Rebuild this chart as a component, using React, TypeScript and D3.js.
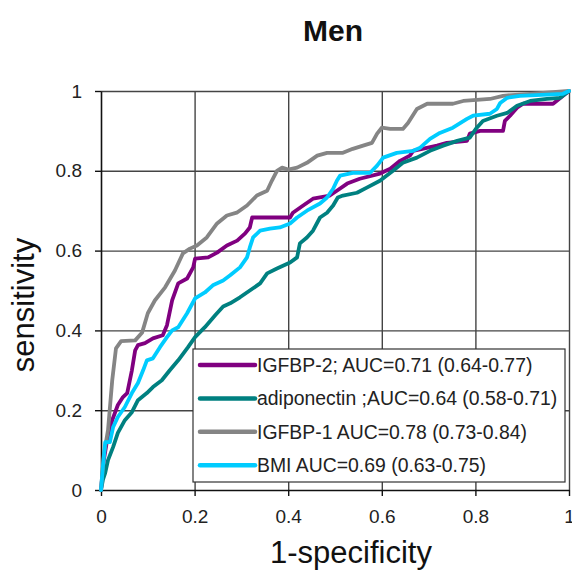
import React, { useEffect, useRef } from "react";
import * as d3 from "d3";

// ROC points: [1-specificity, sensitivity]
const igfbp2 = [
  [0, 0], [0.006, 0.075], [0.013, 0.125], [0.024, 0.175], [0.036, 0.213], [0.047, 0.233],
  [0.056, 0.243], [0.066, 0.3], [0.073, 0.35], [0.079, 0.363], [0.094, 0.368], [0.111, 0.38],
  [0.132, 0.388], [0.141, 0.413], [0.152, 0.475], [0.165, 0.518], [0.184, 0.53], [0.197, 0.558],
  [0.201, 0.58], [0.229, 0.583], [0.248, 0.595], [0.269, 0.613], [0.291, 0.625], [0.308, 0.643],
  [0.318, 0.658], [0.323, 0.683], [0.404, 0.683], [0.41, 0.695], [0.432, 0.713], [0.453, 0.73],
  [0.489, 0.738], [0.504, 0.75], [0.526, 0.768], [0.553, 0.78], [0.596, 0.793], [0.618, 0.805],
  [0.639, 0.825], [0.66, 0.838], [0.667, 0.85], [0.718, 0.863], [0.739, 0.87], [0.782, 0.875],
  [0.788, 0.893], [0.81, 0.9], [0.859, 0.9], [0.863, 0.925], [0.874, 0.938], [0.889, 0.958],
  [0.902, 0.968], [0.966, 0.968], [1, 1],
];

const adiponectin = [
  [0, 0], [0.004, 0.025], [0.009, 0.043], [0.015, 0.075], [0.026, 0.108], [0.036, 0.143],
  [0.051, 0.175], [0.066, 0.195], [0.079, 0.225], [0.098, 0.243], [0.111, 0.258], [0.13, 0.275],
  [0.147, 0.3], [0.165, 0.325], [0.186, 0.358], [0.201, 0.383], [0.222, 0.408], [0.244, 0.438],
  [0.261, 0.46], [0.276, 0.468], [0.297, 0.483], [0.318, 0.5], [0.34, 0.518], [0.355, 0.543],
  [0.376, 0.555], [0.404, 0.57], [0.419, 0.583], [0.425, 0.618], [0.44, 0.633], [0.453, 0.65],
  [0.468, 0.683], [0.483, 0.695], [0.496, 0.713], [0.506, 0.733], [0.517, 0.738], [0.547, 0.745],
  [0.568, 0.758], [0.596, 0.775], [0.624, 0.8], [0.645, 0.82], [0.675, 0.833], [0.703, 0.85],
  [0.731, 0.863], [0.761, 0.875], [0.788, 0.883], [0.803, 0.908], [0.816, 0.925], [0.846, 0.938],
  [0.868, 0.945], [0.889, 0.963], [0.917, 0.975], [0.953, 0.98], [0.981, 0.983], [1, 1],
];

const igfbp1 = [
  [0, 0], [0.006, 0.088], [0.015, 0.15], [0.024, 0.275], [0.032, 0.355], [0.043, 0.373],
  [0.073, 0.375], [0.088, 0.395], [0.1, 0.443], [0.115, 0.475], [0.137, 0.508], [0.158, 0.55],
  [0.175, 0.593], [0.19, 0.605], [0.205, 0.613], [0.226, 0.633], [0.248, 0.668], [0.269, 0.688],
  [0.29, 0.695], [0.312, 0.713], [0.333, 0.738], [0.355, 0.75], [0.365, 0.775], [0.376, 0.8],
  [0.387, 0.808], [0.4, 0.803], [0.419, 0.808], [0.44, 0.82], [0.462, 0.838], [0.483, 0.845],
  [0.517, 0.845], [0.538, 0.855], [0.56, 0.863], [0.579, 0.87], [0.59, 0.893], [0.6, 0.908],
  [0.618, 0.905], [0.645, 0.905], [0.656, 0.92], [0.675, 0.955], [0.697, 0.968], [0.752, 0.968],
  [0.774, 0.975], [0.831, 0.98], [0.859, 0.988], [0.917, 0.993], [1, 1],
];

const bmi = [
  [0, 0], [0.004, 0.058], [0.009, 0.12], [0.019, 0.12], [0.026, 0.158], [0.036, 0.183],
  [0.051, 0.208], [0.066, 0.243], [0.079, 0.268], [0.09, 0.3], [0.098, 0.325], [0.111, 0.33],
  [0.126, 0.358], [0.141, 0.383], [0.152, 0.4], [0.165, 0.408], [0.184, 0.443], [0.201, 0.48],
  [0.222, 0.495], [0.239, 0.513], [0.261, 0.525], [0.276, 0.538], [0.297, 0.558], [0.312, 0.583],
  [0.318, 0.608], [0.325, 0.633], [0.34, 0.65], [0.361, 0.655], [0.382, 0.658], [0.404, 0.668],
  [0.419, 0.683], [0.44, 0.7], [0.468, 0.718], [0.483, 0.733], [0.496, 0.755], [0.504, 0.775],
  [0.511, 0.788], [0.538, 0.795], [0.575, 0.795], [0.59, 0.813], [0.603, 0.833], [0.632, 0.845],
  [0.667, 0.85], [0.682, 0.858], [0.703, 0.88], [0.724, 0.895], [0.752, 0.908], [0.782, 0.93],
  [0.795, 0.938], [0.831, 0.943], [0.846, 0.955], [0.853, 0.97], [0.868, 0.983], [0.895, 0.988],
  [0.987, 0.993], [1, 1],
];

const seriesData = [igfbp2, adiponectin, igfbp1, bmi];
const seriesLabels = [
  "IGFBP-2; AUC=0.71 (0.64-0.77)",
  "adiponectin ;AUC=0.64 (0.58-0.71)",
  "IGFBP-1 AUC=0.78 (0.73-0.84)",
  "BMI AUC=0.69 (0.63-0.75)",
];
const seriesColors = ["#800080", "#008080", "#858585", "#00ccff"];
const tickValues = [0, 0.2, 0.4, 0.6, 0.8, 1];

const FONT = "'Liberation Sans', Arial, sans-serif";

const App = () => {
  const svgRef = useRef(null);

  useEffect(() => {
    const svg = d3.select(svgRef.current);
    svg.selectAll("*").remove();

    const x = d3.scaleLinear().domain([0, 1]).range([101, 569]);
    const y = d3.scaleLinear().domain([0, 1]).range([490, 91]);

    // grid
    const gridX = svg.append("g")
      .attr("transform", `translate(0,${y(0)})`)
      .call(d3.axisBottom(x).tickValues(tickValues.slice(1)).tickSize(-(y(0) - y(1))).tickFormat(() => ""));
    gridX.select(".domain").remove();
    gridX.selectAll("line").attr("stroke", "#444").attr("stroke-width", 1.4);

    const gridY = svg.append("g")
      .attr("transform", `translate(${x(0)},0)`)
      .call(d3.axisLeft(y).tickValues(tickValues.slice(1)).tickSize(-(x(1) - x(0))).tickFormat(() => ""));
    gridY.select(".domain").remove();
    gridY.selectAll("line").attr("stroke", "#444").attr("stroke-width", 1.4);

    // axes
    const xAxis = svg.append("g")
      .attr("transform", `translate(0,${y(0)})`)
      .call(d3.axisBottom(x).tickValues(tickValues).tickSize(6).tickSizeOuter(0).tickPadding(14).tickFormat((d) => String(d)));
    const yAxis = svg.append("g")
      .attr("transform", `translate(${x(0)},0)`)
      .call(d3.axisLeft(y).tickValues(tickValues).tickSize(6).tickSizeOuter(0).tickPadding(13).tickFormat((d) => String(d)));
    [xAxis, yAxis].forEach((ax) => {
      ax.select(".domain").attr("stroke", "#111").attr("stroke-width", 1.6);
      ax.selectAll("line").attr("stroke", "#111").attr("stroke-width", 1.4);
      ax.selectAll("text").attr("font-family", FONT).attr("font-size", 19).attr("fill", "#222");
    });

    // ROC curves
    const line = d3.line()
      .x((d) => x(d[0]))
      .y((d) => y(d[1]));

    svg.append("g")
      .selectAll("path")
      .data(seriesData)
      .enter()
      .append("path")
      .attr("d", (d) => line(d))
      .attr("fill", "none")
      .attr("stroke", (d, i) => seriesColors[i])
      .attr("stroke-width", 3.8)
      .attr("stroke-linejoin", "round")
      .attr("stroke-linecap", "round");

    // legend
    const legend = svg.append("g");
    legend.append("rect")
      .attr("x", 193)
      .attr("y", 349)
      .attr("width", 372)
      .attr("height", 133)
      .attr("fill", "#fff")
      .attr("stroke", "#333")
      .attr("stroke-width", 1.2);

    const items = legend.selectAll(".item")
      .data(seriesLabels)
      .enter()
      .append("g")
      .attr("class", "item")
      .attr("transform", (d, i) => `translate(200,${365 + i * 33.4})`);

    items.append("line")
      .attr("x1", 0)
      .attr("x2", 55)
      .attr("stroke", (d, i) => seriesColors[i])
      .attr("stroke-width", 4.5)
      .attr("stroke-linecap", "round");

    items.append("text")
      .attr("x", 57)
      .attr("dy", "0.35em")
      .attr("font-family", FONT)
      .attr("font-size", 19.4)
      .attr("fill", "#222")
      .text((d) => d);

    // titles
    svg.append("text")
      .attr("x", 333)
      .attr("y", 41)
      .attr("text-anchor", "middle")
      .attr("font-family", FONT)
      .attr("font-weight", "bold")
      .attr("font-size", 30)
      .attr("fill", "#111")
      .text("Men");

    svg.append("text")
      .attr("x", 351)
      .attr("y", 563)
      .attr("text-anchor", "middle")
      .attr("font-family", FONT)
      .attr("font-size", 31)
      .attr("fill", "#111")
      .text("1-specificity");

    svg.append("text")
      .attr("transform", "translate(34,305) rotate(-90)")
      .attr("text-anchor", "middle")
      .attr("font-family", FONT)
      .attr("font-size", 31)
      .attr("fill", "#111")
      .text("sensitivity");
  }, []);

  return (
    <svg
      ref={svgRef}
      width={572}
      height={571}
      style={{ position: "absolute", left: 0, top: 0, background: "#fff" }}
    ></svg>
  );
};

export default App;
